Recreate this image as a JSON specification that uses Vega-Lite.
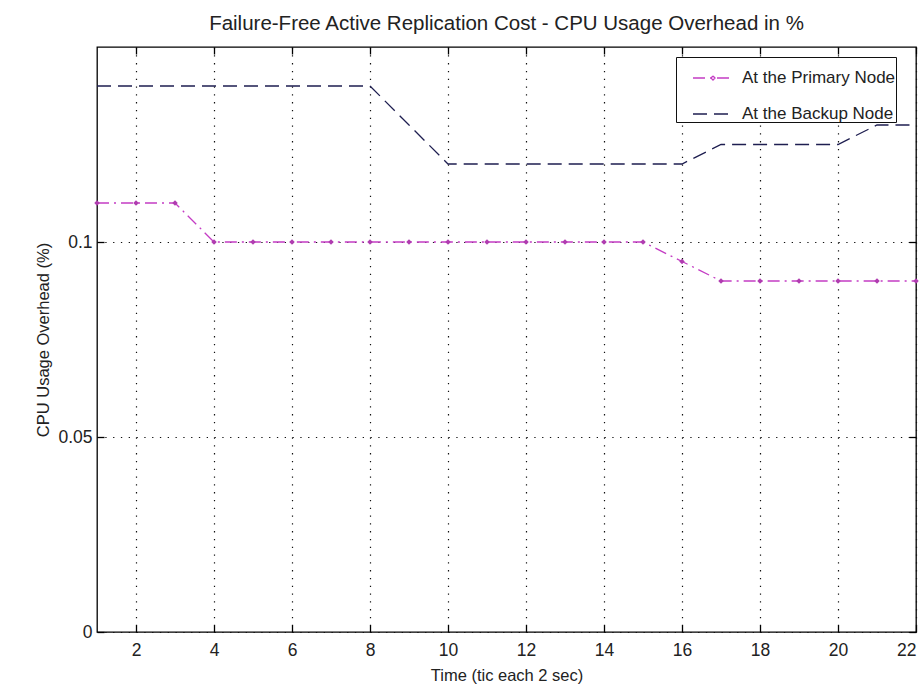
{
  "$schema": "https://vega.github.io/schema/vega-lite/v6.json",
  "autosize": {"type": "none"},
  "width": 819,
  "height": 585,
  "padding": {"left": 97, "top": 47, "right": 4, "bottom": 54},
  "background": "white",
  "config": {
    "font": "Liberation Sans",
    "view": {"stroke": "black", "strokeWidth": 1.3},
    "axis": {"domainColor": "black", "tickColor": "black", "tickWidth": 1.3, "labelColor": "#222", "titleColor": "#222", "labelFont": "Liberation Sans", "titleFont": "Liberation Sans", "titleFontWeight": "normal", "labelFontSize": 17.5, "titleFontSize": 16.5}
  },
  "title": {"text": "Failure-Free Active Replication Cost - CPU Usage Overhead in %", "fontSize": 20.5, "fontWeight": "normal", "color": "#222", "font": "Liberation Sans", "offset": 12},
  "data": {"values": [
    {"t": 1, "v": 0.14, "s": "At the Backup Node"},
    {"t": 2, "v": 0.14, "s": "At the Backup Node"},
    {"t": 3, "v": 0.14, "s": "At the Backup Node"},
    {"t": 4, "v": 0.14, "s": "At the Backup Node"},
    {"t": 5, "v": 0.14, "s": "At the Backup Node"},
    {"t": 6, "v": 0.14, "s": "At the Backup Node"},
    {"t": 7, "v": 0.14, "s": "At the Backup Node"},
    {"t": 8, "v": 0.14, "s": "At the Backup Node"},
    {"t": 9, "v": 0.13, "s": "At the Backup Node"},
    {"t": 10, "v": 0.12, "s": "At the Backup Node"},
    {"t": 11, "v": 0.12, "s": "At the Backup Node"},
    {"t": 12, "v": 0.12, "s": "At the Backup Node"},
    {"t": 13, "v": 0.12, "s": "At the Backup Node"},
    {"t": 14, "v": 0.12, "s": "At the Backup Node"},
    {"t": 15, "v": 0.12, "s": "At the Backup Node"},
    {"t": 16, "v": 0.12, "s": "At the Backup Node"},
    {"t": 17, "v": 0.125, "s": "At the Backup Node"},
    {"t": 18, "v": 0.125, "s": "At the Backup Node"},
    {"t": 19, "v": 0.125, "s": "At the Backup Node"},
    {"t": 20, "v": 0.125, "s": "At the Backup Node"},
    {"t": 21, "v": 0.13, "s": "At the Backup Node"},
    {"t": 22, "v": 0.13, "s": "At the Backup Node"},
    {"t": 1, "v": 0.11, "s": "At the Primary Node"},
    {"t": 2, "v": 0.11, "s": "At the Primary Node"},
    {"t": 3, "v": 0.11, "s": "At the Primary Node"},
    {"t": 4, "v": 0.1, "s": "At the Primary Node"},
    {"t": 5, "v": 0.1, "s": "At the Primary Node"},
    {"t": 6, "v": 0.1, "s": "At the Primary Node"},
    {"t": 7, "v": 0.1, "s": "At the Primary Node"},
    {"t": 8, "v": 0.1, "s": "At the Primary Node"},
    {"t": 9, "v": 0.1, "s": "At the Primary Node"},
    {"t": 10, "v": 0.1, "s": "At the Primary Node"},
    {"t": 11, "v": 0.1, "s": "At the Primary Node"},
    {"t": 12, "v": 0.1, "s": "At the Primary Node"},
    {"t": 13, "v": 0.1, "s": "At the Primary Node"},
    {"t": 14, "v": 0.1, "s": "At the Primary Node"},
    {"t": 15, "v": 0.1, "s": "At the Primary Node"},
    {"t": 16, "v": 0.095, "s": "At the Primary Node"},
    {"t": 17, "v": 0.09, "s": "At the Primary Node"},
    {"t": 18, "v": 0.09, "s": "At the Primary Node"},
    {"t": 19, "v": 0.09, "s": "At the Primary Node"},
    {"t": 20, "v": 0.09, "s": "At the Primary Node"},
    {"t": 21, "v": 0.09, "s": "At the Primary Node"},
    {"t": 22, "v": 0.09, "s": "At the Primary Node"}
  ]},
  "resolve": {"axis": {"x": "independent", "y": "independent"}},
  "layer": [
    {
      "mark": {"type": "line", "strokeWidth": 1.3, "clip": true},
      "encoding": {
        "x": {"field": "t", "type": "quantitative", "scale": {"domain": [1, 22], "nice": false, "zero": false},
              "axis": {"orient": "bottom", "values": [2,4,6,8,10,12,14,16,18,20,22], "tickSize": -7, "labelPadding": 16, "title": "Time (tic each 2 sec)", "titlePadding": 9, "grid": true, "gridColor": "#111", "gridDash": [1.3, 6.5], "gridWidth": 1.2, "gridOpacity": 1, "domain": false}},
        "y": {"field": "v", "type": "quantitative", "scale": {"domain": [0, 0.15], "nice": false},
              "axis": {"orient": "left", "values": [0, 0.05, 0.1], "format": "~g", "tickSize": -7, "labelPadding": 12, "title": "CPU Usage Overhead (%)", "titlePadding": 6, "grid": true, "gridColor": "#111", "gridDash": [1.3, 6.5], "gridWidth": 1.2, "gridOpacity": 1, "domain": false}},
        "color": {"field": "s", "type": "nominal", "scale": {"domain": ["At the Primary Node", "At the Backup Node"], "range": ["#c43cc4", "#1e1e50"]},
                  "legend": {"orient": "none", "legendX": 579, "legendY": 10, "title": null, "fillColor": "white", "strokeColor": "#111", "padding": 0, "labelFontSize": 17, "labelColor": "#222", "labelFont": "Liberation Sans", "symbolType": "stroke", "symbolSize": 1600, "symbolOffset": 16, "symbolStrokeWidth": 1.3, "rowPadding": 7, "labelOffset": 8, "labelLimit": 400,
                             "encode": {"symbols": {"update": {"shape": {"signal": "datum.value === 'At the Primary Node' ? 'M-1,0L1,0M0,-0.1L0.1,0L0,0.1L-0.1,0Z' : 'stroke'"}}}}}},
        "strokeDash": {"field": "s", "type": "nominal", "scale": {"domain": ["At the Primary Node", "At the Backup Node"], "range": [[12, 5, 2, 5], [14, 7]]}, "legend": null}
      }
    },
    {
      "transform": [{"filter": "datum.s === 'At the Primary Node'"}],
      "mark": {"type": "point", "shape": "diamond", "filled": true, "size": 30, "color": "#b03cb0", "opacity": 1},
      "encoding": {
        "x": {"field": "t", "type": "quantitative", "axis": {"orient": "top", "values": [2,4,6,8,10,12,14,16,18,20,22], "tickSize": -7, "labels": false, "title": null, "grid": false, "domain": false}},
        "y": {"field": "v", "type": "quantitative", "axis": {"orient": "right", "values": [0, 0.05, 0.1], "tickSize": -7, "labels": false, "title": null, "grid": false, "domain": false}}
      }
    }
  ]
}
